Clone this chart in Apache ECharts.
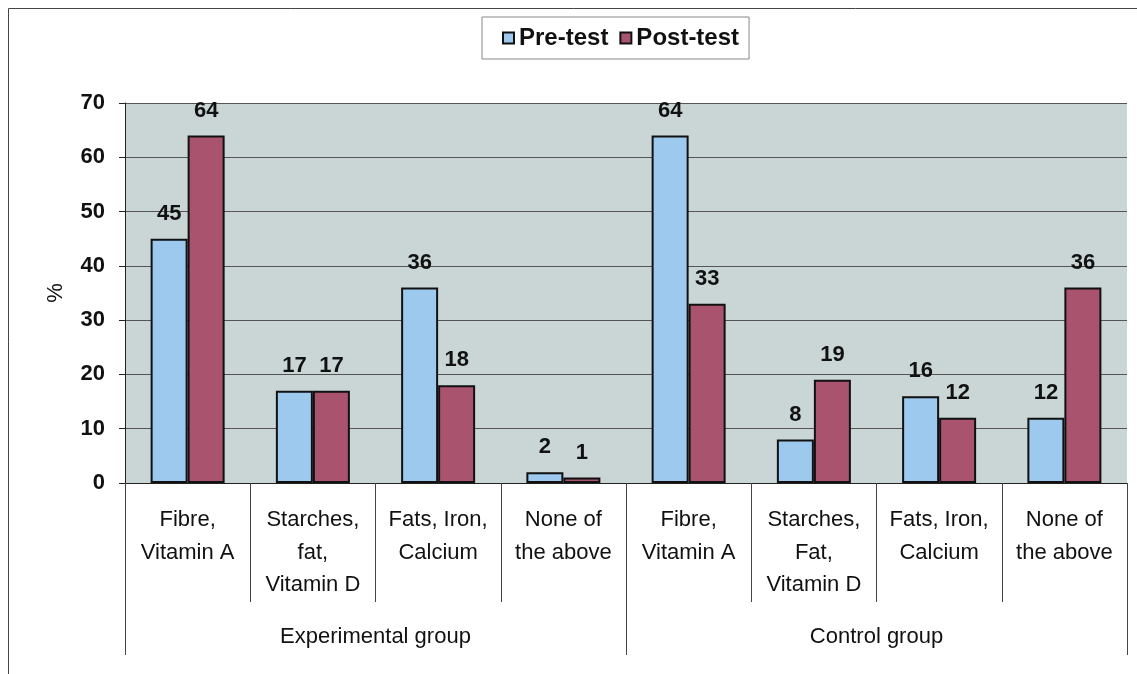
<!DOCTYPE html>
<html>
<head>
<meta charset="utf-8">
<script src="https://cdn.jsdelivr.net/npm/echarts@6/dist/echarts.min.js"></script>
<style>
  html, body { margin: 0; padding: 0; background: #fff; }
  #main { width: 1137px; height: 674px; }
</style>
</head>
<body>
<div id="main"></div>
<script>
var categories = [
  'Fibre,\nVitamin A', 'Starches,\nfat,\nVitamin D', 'Fats, Iron,\nCalcium', 'None of\nthe above',
  'Fibre,\nVitamin A', 'Starches,\nFat,\nVitamin D', 'Fats, Iron,\nCalcium', 'None of\nthe above'
];
var groups = ['Experimental group', 'Control group'];
var preTest = [45, 17, 36, 2, 64, 8, 16, 12];
var postTest = [64, 17, 18, 1, 33, 19, 12, 36];

var font = 'Arial, "Liberation Sans", sans-serif';

var myChart = echarts.init(document.getElementById('main'), null, {
  width: 1137,
  height: 674,
});

let option = {
  animation: false,
  textStyle: { fontFamily: font },
  graphic: [
    {
      type: 'rect',
      shape: { x: 8.5, y: 8.5, width: 1140, height: 680 },
      style: { fill: 'none', stroke: '#444', lineWidth: 1 }
    }
  ],
  legend: {
    left: 482,
    top: 17,
    padding: [9, 10, 9, 20],
    itemGap: 11,
    itemWidth: 11,
    itemHeight: 11,
    icon: 'rect',
    borderColor: '#888',
    borderWidth: 1,
    backgroundColor: '#fff',
    textStyle: {
      fontFamily: font,
      fontWeight: 'bold',
      fontSize: 24,
      color: '#111'
    },
    data: ['Pre-test', 'Post-test']
  },
  grid: {
    left: 125,
    right: 10,
    top: 103,
    bottom: 191,
    show: true,
    backgroundColor: '#cad6d6',
    borderWidth: 0
  },
  xAxis: [
    {
      type: 'category',
      data: categories,
      axisLine: { show: true, lineStyle: { color: '#222', width: 1 } },
      axisTick: {
        show: true,
        interval: 0,
        length: 119,
        lineStyle: { color: '#444', width: 1 }
      },
      axisLabel: {
        interval: 0,
        margin: 21,
        fontSize: 22,
        lineHeight: 32.5,
        color: '#111',
        fontFamily: font
      }
    },
    {
      type: 'category',
      position: 'bottom',
      data: groups,
      axisLine: { show: false },
      axisTick: {
        show: true,
        interval: 0,
        length: 172,
        lineStyle: { color: '#444', width: 1 }
      },
      axisLabel: {
        interval: 0,
        margin: 143,
        fontSize: 22,
        color: '#111',
        fontFamily: font
      }
    }
  ],
  yAxis: {
    type: 'value',
    min: 0,
    max: 70,
    interval: 10,
    name: '%',
    nameLocation: 'middle',
    nameGap: 58,
    nameRotate: 90,
    nameTextStyle: { fontSize: 22, color: '#111', fontFamily: font },
    axisLine: { show: true, lineStyle: { color: '#222', width: 1 } },
    axisTick: { show: true, length: 6, lineStyle: { color: '#222' } },
    axisLabel: {
      margin: 20,
      fontSize: 22,
      fontWeight: 'bold',
      color: '#111',
      fontFamily: font
    },
    splitLine: { show: true, lineStyle: { color: '#555', width: 1 } }
  },
  series: [
    {
      name: 'Pre-test',
      type: 'bar',
      xAxisIndex: 0,
      barWidth: 37,
      barGap: '0%',
      itemStyle: { color: '#9dc9ef', borderColor: '#111', borderWidth: 2 },
      label: {
        show: true,
        position: 'top',
        distance: 14,
        fontSize: 22,
        fontWeight: 'bold',
        color: '#111',
        fontFamily: font
      },
      data: preTest
    },
    {
      name: 'Post-test',
      type: 'bar',
      xAxisIndex: 0,
      barWidth: 37,
      barGap: '0%',
      itemStyle: { color: '#a9536f', borderColor: '#111', borderWidth: 2 },
      label: {
        show: true,
        position: 'top',
        distance: 14,
        fontSize: 22,
        fontWeight: 'bold',
        color: '#111',
        fontFamily: font
      },
      data: postTest
    }
  ]
};

myChart.setOption(option);
</script>
</body>
</html>
